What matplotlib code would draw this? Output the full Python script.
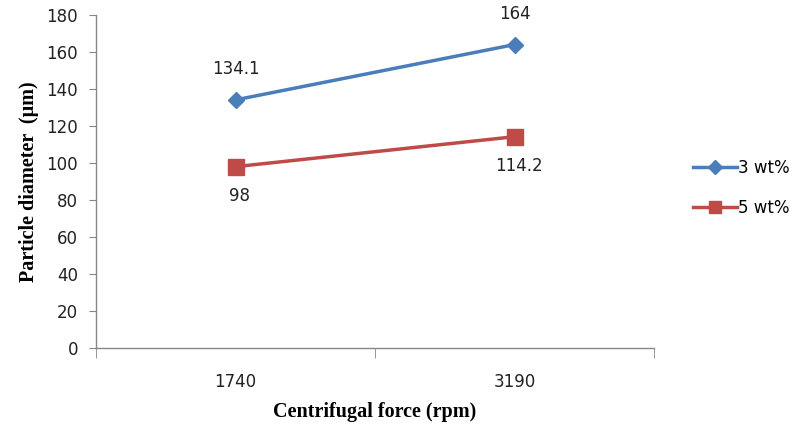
import matplotlib
matplotlib.use("Agg")
import matplotlib.pyplot as plt
import numpy as np

categories = ["1740", "3190"]
series_names = ["3 wt%", "5 wt%"]
vals_3wt = [134.1, 164]
vals_5wt = [98, 114.2]
yticks = [0, 20, 40, 60, 80, 100, 120, 140, 160, 180]

fig = plt.figure(figsize=(8, 4.28), dpi=100)
ax = fig.add_axes([0.12, 0.187, 0.6975, 0.778])

x = np.arange(len(categories))
blue = "#4A7EBB"
red = "#BE4B48"
l1, = ax.plot(x, vals_3wt, color=blue, lw=2.5, marker="D", markersize=8, label=series_names[0])
l2, = ax.plot(x, vals_5wt, color=red, lw=2.5, marker="s", markersize=11, label=series_names[1])

for xi, v in zip(x, vals_3wt):
    ax.annotate(f"{v:g}", (xi, v), xytext=(0, 22), textcoords="offset points",
                ha="center", va="center", fontsize=12, color="#222222")
for xi, v in zip(x, vals_5wt):
    ax.annotate(f"{v:g}", (xi, v), xytext=(3, -21), textcoords="offset points",
                ha="center", va="center", fontsize=12, color="#222222")

ax.set_xlim(-0.5, 1.5)
ax.set_ylim(0, 180)
ax.set_yticks(yticks)
ax.set_xticks(x)
ax.set_xticklabels(categories)
ax.set_xticks([-0.5, 0.5, 1.5], minor=True)
ax.tick_params(axis="x", which="major", length=0, pad=18, labelsize=12, labelcolor="#222222")
ax.tick_params(axis="x", which="minor", length=7, color="#868686", direction="out")
ax.tick_params(axis="y", length=5, color="#868686", labelsize=12, labelcolor="#222222", pad=8)

for s in ["top", "right"]:
    ax.spines[s].set_visible(False)
for s in ["left", "bottom"]:
    ax.spines[s].set_color("#868686")
    ax.spines[s].set_linewidth(1)

ax.set_ylabel("Particle diameter  (μm)", family="Liberation Serif", fontweight="bold", fontsize=14.5, labelpad=5)
ax.set_xlabel("Centrifugal force (rpm)", family="Liberation Serif", fontweight="bold", fontsize=14.5, labelpad=8)

fig.legend(handles=[l1, l2], loc="center left", bbox_to_anchor=(0.848, 0.561), frameon=False,
           fontsize=12, handlelength=2.6, handletextpad=0.05, labelspacing=1.35, markerscale=0.85)

fig.savefig("out.png", dpi=100)
